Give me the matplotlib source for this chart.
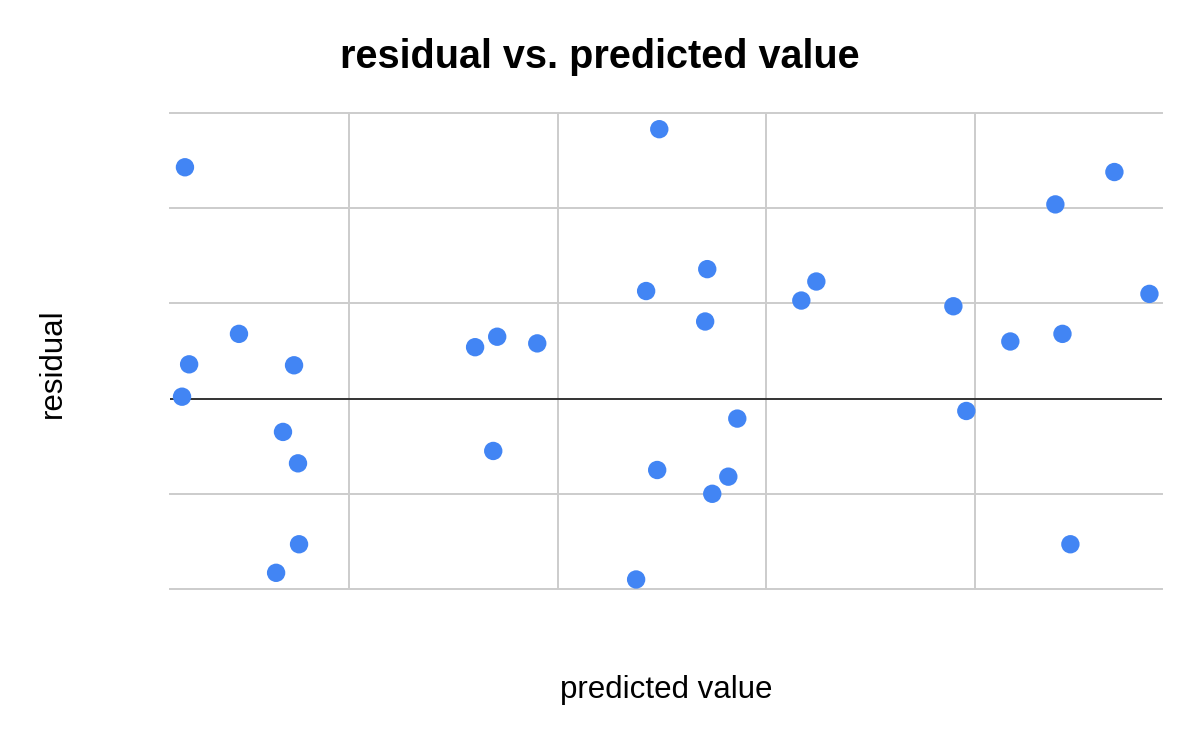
import numpy as np
import matplotlib
matplotlib.use("Agg")
import matplotlib.pyplot as plt

# values (units: one gridline step = 1)
predicted = [0.213, 0.233, 0.199, 0.472, 0.736, 0.683, 0.755, 0.760, 0.650,
             1.604, 1.710, 1.902, 1.691,
             2.487, 2.424, 2.717, 2.707, 2.861, 2.477, 2.818, 2.741, 2.376,
             3.168, 3.240, 3.897, 3.959,
             4.170, 4.420, 4.386, 4.669, 4.837, 4.458]
residual = [2.43, 0.36, 0.02, 0.68, 0.35, -0.35, -0.68, -1.53, -1.83,
            0.54, 0.65, 0.58, -0.55,
            2.83, 1.13, 1.36, 0.81, -0.21, -0.75, -0.82, -1.00, -1.90,
            1.03, 1.23, 0.97, -0.13,
            0.60, 0.68, 2.04, 2.38, 1.10, -1.53]
x_grid = [1, 2, 3, 4]
y_grid = [-2, -1, 1, 2, 3]

plt.rcParams["font.family"] = ["Liberation Sans", "DejaVu Sans"]

fig = plt.figure(figsize=(12, 7.42), dpi=100)
ax = fig.add_axes([0.1417, 0.2062, 0.8266, 0.6415])

for gx in x_grid:
    ax.axvline(gx, color="#cccccc", lw=1.4, zorder=0)
for gy in y_grid:
    ax.axhline(gy, color="#cccccc", lw=1.4, zorder=0, clip_on=False)
ax.axhline(0, color="#333333", lw=1.4, zorder=1)

ax.scatter(predicted, residual, s=175, color="#4285F4", edgecolors="none", zorder=3)

ax.set_xlim(0.1415, 4.897)
ax.set_ylim(-2, 3)
ax.set_xticks([])
ax.set_yticks([])
for sp in ax.spines.values():
    sp.set_visible(False)

fig.text(0.5, 0.923, "residual vs. predicted value", ha="center", va="center",
         fontsize=28.5, fontweight="bold")
fig.text(0.555, 0.07, "predicted value", ha="center", va="center", fontsize=22.5)
fig.text(0.044, 0.51, "residual", ha="center", va="center", fontsize=22.5, rotation=90)

fig.savefig("out.png", dpi=100)
